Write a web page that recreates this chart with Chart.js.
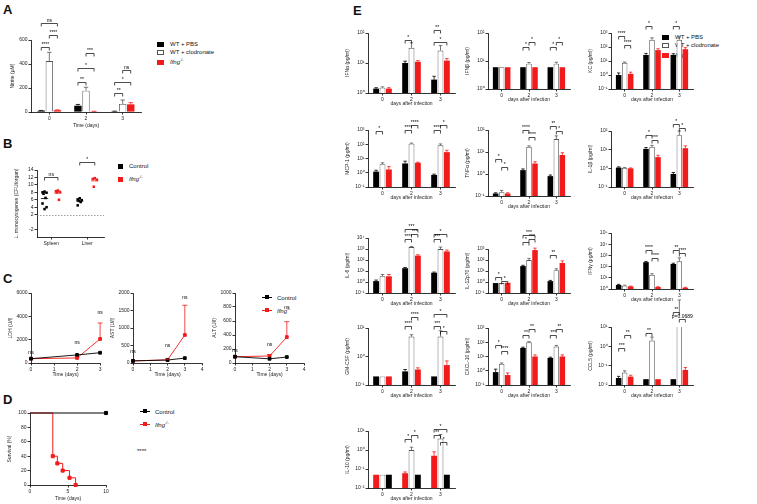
<!DOCTYPE html>
<html><head><meta charset="utf-8">
<script src="https://cdn.jsdelivr.net/npm/chart.js@4.4.1/dist/chart.umd.min.js"></script>
<style>
body{margin:0;width:757px;height:504px;background:#fff;position:relative;overflow:hidden;font-family:"Liberation Sans",Arial,sans-serif;color:#111}
canvas{position:absolute}
.pl{position:absolute;font-weight:bold;font-size:13px}
.leg{position:absolute;font-size:6px;line-height:8px;white-space:nowrap}
.sw{display:inline-block;width:7px;height:5px;margin-right:6px;vertical-align:-1px;box-sizing:border-box}
.ln{display:inline-block;width:10px;height:1px;margin-right:5px;vertical-align:2px;position:relative}
.ln i{position:absolute;left:3px;top:-2px;width:4px;height:4px}
.note{position:absolute;font-size:6px}
</style></head><body>
<div class="pl" style="left:3px;top:2px">A</div>
<div class="pl" style="left:3px;top:136px">B</div>
<div class="pl" style="left:3px;top:271px">C</div>
<div class="pl" style="left:3px;top:392px">D</div>
<div class="pl" style="left:353px;top:3px">E</div>

<div class="leg" style="left:157px;top:40px">
<div><span class="sw" style="background:#000"></span>WT + PBS</div>
<div><span class="sw" style="border:1px solid #555"></span>WT + clodronate</div>
<div><span class="sw" style="background:#f21b1b"></span><i>Ifng</i><sup style="font-size:4px">-/-</sup></div>
</div>
<div class="leg" style="left:118px;top:162px">
<div><span class="sw" style="background:#000;width:5px"></span>Control</div>
<div style="margin-top:3px"><span class="sw" style="background:#f21b1b;width:5px"></span><i>Ifng</i><sup style="font-size:4px">-/-</sup></div>
</div>
<div class="leg" style="left:262px;top:294px">
<div><span class="ln" style="background:#000"><i style="background:#000"></i></span>Control</div>
<div style="margin-top:3px"><span class="ln" style="background:#f21b1b"><i style="background:#f21b1b"></i></span><i>Ifng</i><sup style="font-size:4px">-/-</sup></div>
</div>
<div class="leg" style="left:140px;top:408px">
<div><span class="ln" style="background:#000"><i style="background:#000"></i></span>Control</div>
<div style="margin-top:3px"><span class="ln" style="background:#f21b1b"><i style="background:#f21b1b"></i></span><i>Ifng</i><sup style="font-size:4px">-/-</sup></div>
</div>
<div class="note" style="left:137px;top:448px">****</div>
<div class="leg" style="left:662px;top:33px">
<div><span class="sw" style="background:#000"></span>WT + PBS</div>
<div><span class="sw" style="border:1px solid #555"></span>WT + clodronate</div>
<div><span class="sw" style="background:#f21b1b"></span><i>Ifng</i><sup style="font-size:4px">-/-</sup></div>
</div>

<script>
// ---- A: nitrite ----
const daysA = ['0', '2', '3'];
const nitPBS = [11, 52, 5];
const nitClo = [425, 178, 67];
const nitIfng = [15, 5, 64];
const nitPBSse = [2, 11, 2];
const nitCloSe = [72, 28, 33];
const nitIfngSe = [3, 1, 14];

// ---- B: bacterial burden (log CFU) ----
const organs = ['Spleen', 'Liver'];
const cfuCtl = [[8.2, 8, 7.9, 7.6, 6.5, 5, 4, 3.5], [6.4, 6.1, 5.9, 5.7, 5.4, 4.5]];
const cfuIfng = [[8.5, 8.3, 8.1, 8, 6], [11.8, 11.6, 11.4, 9.5]];

// ---- C: serum enzymes ----
const cDays = [0, 2, 3];
const ldhCtl = [370, 690, 880];
const ldhIfng = [370, 430, 2060];
const ldhIfngSe = [0, 80, 1370];
const astCtl = [60, 85, 140];
const astIfng = [60, 90, 800];
const astIfngSe = [0, 20, 850];
const altCtl = [90, 60, 85];
const altIfng = [90, 100, 370];
const altIfngSe = [0, 20, 220];

// ---- D: survival ----
const survCtlT = [0, 10];
const survCtl = [100, 100];
const survIfngT = [0, 3, 3.6, 4.3, 5.2, 6];
const survIfng = [100, 40, 30, 20, 10, 0];

// ---- E: cytokines, rows = [WT+PBS, WT+clodronate, Ifng-/-], cols = days 0,2,3 ----
const daysE = ['0', '2', '3'];
const IFNa = [[1.4, 10, 2.8], [1.5, 32, 26], [1.4, 11, 12]];
const IFNaSe = [[0.1, 1.5, 0.8], [0.1, 15, 12], [0.1, 1, 2]];
const IFNb = [[6, 6, 6], [6, 8, 8], [6, 6, 6]];
const IFNbSe = [[0, 0, 0], [0, 0.8, 1], [0, 0, 0]];
const KC = [[1, 27, 27], [7.4, 330, 330], [1.2, 60, 70]];
const KCse = [[0.4, 8, 6], [1, 120, 200], [0.4, 15, 20]];
const MCP1 = [[1.2, 4.5, 0.7], [4, 110, 85], [1.7, 5, 28]];
const MCP1se = [[0.3, 2, 0.1], [1, 10, 20], [1, 0.5, 10]];
const TNFa = [[0.13, 1.5, 0.8], [0.15, 17, 39], [0.13, 3, 7.3]];
const TNFaSe = [[0.01, 0.2, 0.1], [0.03, 2, 15], [0.01, 0.6, 2]];
const IL1b = [[1.1, 11, 0.5], [1.05, 14, 60], [1.0, 4, 12]];
const IL1bSe = [[0.1, 2, 0.1], [0.05, 3, 40], [0.05, 1, 4]];
const IL6 = [[1.2, 18, 7], [3.3, 1500, 1000], [3.3, 250, 600]];
const IL6se = [[0.3, 3, 1], [1.5, 200, 500], [1.5, 50, 200]];
const IL12 = [[0.8, 28, 1.2], [0.8, 100, 12], [0.85, 800, 53]];
const IL12se = [[0, 5, 0.2], [0, 40, 4], [0, 400, 30]];
const IFNg = [[2.3, 250, 170], [2, 18, 300], [1.7, 1.5, 1.3]];
const IFNgSe = [[0.3, 40, 30], [0.2, 5, 300], [0.1, 0.1, 0.1]];
const GMCSF = [[0.2, 0.3, 0.2], [0.2, 5, 5], [0.2, 0.35, 0.5]];
const GMCSFse = [[0, 0.05, 0], [0, 0.8, 3], [0, 0.05, 0.2]];
const CXCL10 = [[0.8, 40, 8], [3, 100, 50], [0.5, 10, 10]];
const CXCL10se = [[0.5, 5, 1], [0.5, 10, 10], [0.2, 3, 3]];
const CCL5 = [[0.023, 0.02, 0.02], [0.044, 2, 50], [0.027, 0.02, 0.06]];
const CCL5se = [[0.005, 0, 0], [0.01, 1, 200], [0.005, 0, 0.02]];
const IL10 = [[0.05, 0.05, 0.05], [0.05, 1, 4], [0.05, 0.06, 0.5]];
const IL10se = [[0, 0, 0], [0, 0.4, 2.5], [0, 0.01, 0.3]];

const RED = '#f21b1b';
const FONT = '"Liberation Sans", Arial, sans-serif';

Chart.defaults.font.family = FONT;
Chart.defaults.font.size = 5;
Chart.defaults.color = '#222';
Chart.defaults.animation = false;
Chart.defaults.responsive = false;
Chart.defaults.plugins.legend.display = false;
Chart.defaults.plugins.tooltip.enabled = false;

// error bars (mean + SEM, upward only)
const errBars = {
    id: 'errBars',
    afterDatasetsDraw(chart) {
        const ctx = chart.ctx, ys = chart.scales.y;
        chart.data.datasets.forEach((ds, i) => {
            if (!ds.err) return;
            chart.getDatasetMeta(i).data.forEach((el, j) => {
                const e = ds.err[j];
                if (!e) return;
                const v = ds.data[j].y !== undefined ? ds.data[j].y : ds.data[j];
                const y0 = ys.getPixelForValue(v), y1 = ys.getPixelForValue(v + e);
                const hw = el.width ? el.width * 0.3 : 2.5;
                ctx.save();
                ctx.strokeStyle = ds.errColor || ds.borderColor;
                ctx.lineWidth = 0.8;
                ctx.beginPath();
                ctx.moveTo(el.x, y0); ctx.lineTo(el.x, y1);
                ctx.moveTo(el.x - hw, y1); ctx.lineTo(el.x + hw, y1);
                ctx.stroke();
                ctx.restore();
            });
        });
    }
};

// significance brackets: [group, datasetA, datasetB, yValue, text]
const brackets = {
    id: 'brackets',
    afterDraw(chart, args, opts) {
        const items = opts.items || [];
        const ctx = chart.ctx, ys = chart.scales.y;
        ctx.save();
        ctx.strokeStyle = '#000'; ctx.fillStyle = '#000'; ctx.lineWidth = 0.7;
        ctx.font = '5px ' + FONT; ctx.textAlign = 'center'; ctx.textBaseline = 'bottom';
        items.forEach(([g, a, b, v, txt]) => {
            const xa = chart.getDatasetMeta(a).data[g].x;
            const xb = chart.getDatasetMeta(b).data[g].x;
            const y = Math.round(ys.getPixelForValue(v)) + 0.5;
            ctx.beginPath();
            ctx.moveTo(xa, y + 3); ctx.lineTo(xa, y); ctx.lineTo(xb, y); ctx.lineTo(xb, y + 3);
            ctx.stroke();
            ctx.fillText(txt, (xa + xb) / 2, y - 0.5);
        });
        ctx.restore();
    }
};

// free text notes at data coordinates: [x, y, text]
const notes = {
    id: 'notes',
    afterDraw(chart, args, opts) {
        const items = opts.items || [];
        const ctx = chart.ctx;
        ctx.save();
        ctx.fillStyle = '#000'; ctx.font = '5px ' + FONT;
        ctx.textAlign = 'center'; ctx.textBaseline = 'bottom';
        items.forEach(([x, y, t]) => {
            ctx.fillText(t, chart.scales.x.getPixelForValue(x), chart.scales.y.getPixelForValue(y));
        });
        ctx.restore();
    }
};

// dotted reference line for panel B
const refLine = {
    id: 'refLine',
    beforeDatasetsDraw(chart, args, opts) {
        if (opts.y === undefined) return;
        const ctx = chart.ctx, a = chart.chartArea;
        const y = Math.round(chart.scales.y.getPixelForValue(opts.y)) + 0.5;
        ctx.save();
        ctx.strokeStyle = '#777'; ctx.lineWidth = 0.7; ctx.setLineDash([1.5, 1.5]);
        ctx.beginPath(); ctx.moveTo(a.left, y); ctx.lineTo(a.right, y); ctx.stroke();
        ctx.restore();
    }
};

Chart.register(errBars, brackets, notes, refLine);

function sup(n) {
    const m = {'-': '⁻', '0': '⁰', '1': '¹', '2': '²', '3': '³', '4': '⁴', '5': '⁵'};
    return String(n).split('').map(c => m[c]).join('');
}

function makeCanvas(plot, m) {
    const c = document.createElement('canvas');
    c.width = plot[2] - plot[0] + m.l + m.r;
    c.height = plot[3] - plot[1] + m.t + m.b;
    c.style.left = (plot[0] - m.l) + 'px';
    c.style.top = (plot[1] - m.t) + 'px';
    document.body.appendChild(c);
    return c;
}

function axisStyle(size, isY) {
    return {
        grid: {display: true, drawOnChartArea: false, drawTicks: true, tickLength: 2.5, color: '#000', lineWidth: 0.8, offset: false},
        border: {display: true, color: '#000', width: 0.8},
        ticks: {padding: 1, font: {size: 5}, color: '#222', maxRotation: 0, autoSkip: false},
        afterFit(s) {
            if (isY) s.width = size; else s.height = size;
            s.paddingTop = 0; s.paddingBottom = 0; s.paddingLeft = 0; s.paddingRight = 0;
        }
    };
}

function yTitle(text) {
    return {display: true, text: text, font: {size: 5}, padding: {top: 1, bottom: 1}, color: '#222'};
}

function linY(m, min, max, step, title) {
    return Object.assign(axisStyle(m.l, true), {
        min: min, max: max,
        ticks: {padding: 1, font: {size: 5}, color: '#222', stepSize: step, callback: v => String(v)},
        title: yTitle(title)
    });
}

function barSet(label, data, err, kind) {
    const st = {
        pbs: {backgroundColor: '#000', borderColor: '#000', borderWidth: 0},
        clo: {backgroundColor: '#fff', borderColor: '#555', borderWidth: 0.9},
        ifng: {backgroundColor: RED, borderColor: RED, borderWidth: 0}
    }[kind];
    return Object.assign({label: label, data: data, err: err, categoryPercentage: 0.66, barPercentage: 0.92}, st);
}

// ---- Panel A ----
(function () {
    const plot = [31, 40, 141, 112], m = {l: 22, t: 30, r: 3, b: 18};
    new Chart(makeCanvas(plot, m), {
        type: 'bar',
        data: {
            labels: daysA,
            datasets: [
                barSet('WT + PBS', nitPBS, nitPBSse, 'pbs'),
                barSet('WT + clodronate', nitClo, nitCloSe, 'clo'),
                barSet('Ifng-/-', nitIfng, nitIfngSe, 'ifng')
            ]
        },
        options: {
            layout: {padding: {top: m.t, right: m.r}},
            scales: {
                x: Object.assign(axisStyle(m.b, false), {title: {display: true, text: 'Time (days)', font: {size: 5}, padding: 1}}),
                y: linY(m, 0, 600, 200, 'Nitrite (µM)')
            },
            plugins: {
                brackets: {items: [
                    [0, 0, 2, 739, 'ns'], [0, 1, 2, 642, '****'], [0, 0, 1, 544, '****'],
                    [1, 1, 2, 489, '***'], [1, 0, 2, 364, '*'], [1, 0, 1, 253, '**'],
                    [2, 1, 2, 350, 'ns'], [2, 0, 2, 253, '*'], [2, 0, 1, 156, '**']
                ]}
            }
        }
    });
})();

// ---- Panel B ----
(function () {
    const plot = [37, 170, 105, 237.5], m = {l: 24, t: 20, r: 3, b: 12};
    const groupX = [[0.45, 1.25], [2.55, 3.45]];   // [control, ifng] per organ
    const jit = [0, -0.12, 0.12, -0.06, 0.06, -0.12, 0.12, 0];
    const pts = (vals, gx) => vals.map((v, i) => ({x: gx + jit[i % jit.length], y: v}));
    const ds = [];
    organs.forEach((o, k) => {
        ds.push({type: 'scatter', data: pts(cfuCtl[k], groupX[k][0]), backgroundColor: '#000', borderWidth: 0, pointStyle: 'rect', pointRadius: 1.8});
        ds.push({type: 'scatter', data: pts(cfuIfng[k], groupX[k][1]), backgroundColor: RED, borderWidth: 0, pointStyle: 'rect', pointRadius: 1.8});
    });
    // mean lines
    const mean = a => a.reduce((s, v) => s + v, 0) / a.length;
    organs.forEach((o, k) => {
        [[cfuCtl[k], '#000', 0], [cfuIfng[k], RED, 1]].forEach(([vals, col, j]) => {
            const mu = mean(vals), gx = groupX[k][j];
            ds.push({type: 'line', data: [{x: gx - 0.22, y: mu}, {x: gx + 0.22, y: mu}], borderColor: col, borderWidth: 0.8, pointRadius: 0});
        });
    });
    new Chart(makeCanvas(plot, m), {
        type: 'scatter',
        data: {datasets: ds},
        options: {
            layout: {padding: {top: m.t, right: m.r}},
            scales: {
                x: Object.assign(axisStyle(m.b, false), {
                    type: 'linear', min: 0, max: 4,
                    afterBuildTicks: s => { s.ticks = [{value: 0.85}, {value: 3.0}]; },
                    ticks: {padding: 1, font: {size: 5}, color: '#222', callback: v => v < 2 ? organs[0] : organs[1]}
                }),
                y: Object.assign(linY(m, -4, 14, 2, 'L. monocytogenes (CFU/organ)'), {
                    afterBuildTicks: s => { s.ticks = [14, 12, 10, 8, 6, 4, 2, -2].map(v => ({value: v})); }
                })
            },
            plugins: {refLine: {y: 2}}
        },
        plugins: [{
            id: 'bBrackets',
            afterDraw(chart) {
                const ctx = chart.ctx, xs = chart.scales.x, ys = chart.scales.y;
                ctx.save();
                ctx.strokeStyle = '#000'; ctx.fillStyle = '#000'; ctx.lineWidth = 0.7;
                ctx.font = '5px ' + FONT; ctx.textAlign = 'center'; ctx.textBaseline = 'bottom';
                [[0, 12.2, 'ns'], [1, 16.2, '*']].forEach(([k, v, t]) => {
                    const xa = xs.getPixelForValue(groupX[k][0]), xb = xs.getPixelForValue(groupX[k][1]);
                    const y = Math.round(ys.getPixelForValue(v)) + 0.5;
                    ctx.beginPath(); ctx.moveTo(xa, y + 3); ctx.lineTo(xa, y); ctx.lineTo(xb, y); ctx.lineTo(xb, y + 3); ctx.stroke();
                    ctx.fillText(t, (xa + xb) / 2, y - 0.5);
                });
                ctx.restore();
            }
        }]
    });
})();

// ---- Panel C ----
function enzyme(plot, ctl, ifng, ifngSe, xmax, ymax, step, title, notesList) {
    const m = {l: 24, t: 8, r: 4, b: 16};
    new Chart(makeCanvas(plot, m), {
        type: 'line',
        data: {
            datasets: [
                {data: cDays.map((d, i) => ({x: d, y: ctl[i]})), borderColor: '#000', backgroundColor: '#000', borderWidth: 0.9, pointStyle: 'rect', pointRadius: 2},
                {data: cDays.map((d, i) => ({x: d, y: ifng[i]})), borderColor: RED, backgroundColor: RED, borderWidth: 0.9, pointStyle: 'rect', pointRadius: 2, err: ifngSe}
            ]
        },
        options: {
            layout: {padding: {top: m.t, right: m.r}},
            clip: false,
            scales: {
                x: Object.assign(axisStyle(m.b, false), {
                    type: 'linear', min: 0, max: xmax,
                    ticks: {padding: 1, font: {size: 5}, color: '#222', stepSize: 1},
                    title: {display: true, text: 'Time (days)', font: {size: 5}, padding: 1}
                }),
                y: linY(m, 0, ymax, step, title)
            },
            plugins: {notes: {items: notesList}}
        }
    });
}
enzyme([31, 293, 101, 363], ldhCtl, ldhIfng, ldhIfngSe, 3, 6000, 2000, 'LDH (U/l)', [[0, 700, 'ns'], [2, 1500, 'ns'], [3, 4100, 'ns']]);
enzyme([133, 293, 203, 363], astCtl, astIfng, astIfngSe, 4, 2000, 500, 'AST (U/l)', [[0, 250, 'ns'], [2, 420, 'ns'], [3, 1800, 'ns']]);
enzyme([235, 293, 305, 363], altCtl, altIfng, altIfngSe, 4, 1000, 200, 'ALT (U/l)', [[0, 140, 'ns'], [2, 220, 'ns'], [3, 760, 'ns']]);

// ---- Panel D ----
(function () {
    const plot = [30, 413, 107, 485], m = {l: 24, t: 6, r: 4, b: 18};
    new Chart(makeCanvas(plot, m), {
        type: 'line',
        data: {
            datasets: [
                {data: survCtlT.map((t, i) => ({x: t, y: survCtl[i]})), stepped: 'before', borderColor: '#000', backgroundColor: '#000', borderWidth: 1, pointStyle: 'rect', pointRadius: [0, 2.2]},
                {data: survIfngT.map((t, i) => ({x: t, y: survIfng[i]})), stepped: 'before', borderColor: RED, backgroundColor: RED, borderWidth: 1, pointStyle: 'rect', pointRadius: [0, 2.2, 2.2, 2.2, 2.2, 2.2]}
            ]
        },
        options: {
            layout: {padding: {top: m.t, right: m.r}},
            clip: false,
            scales: {
                x: Object.assign(axisStyle(m.b, false), {
                    type: 'linear', min: 0, max: 10,
                    ticks: {padding: 1, font: {size: 5}, color: '#222', stepSize: 5},
                    title: {display: true, text: 'Time (days)', font: {size: 5}, padding: 1}
                }),
                y: linY(m, 0, 100, 20, 'Survival (%)')
            }
        }
    });
})();

// ---- Panel E ----
function cyto(title, vals, se, plot, e0, e1, marks, order) {
    const m = {l: 24, t: 32, r: 3, b: 15};
    order = order || [0, 1, 2];
    const names = ['WT + PBS', 'WT + clodronate', 'Ifng-/-'];
    const kinds = ['pbs', 'clo', 'ifng'];
    new Chart(makeCanvas(plot, m), {
        type: 'bar',
        data: {
            labels: daysE,
            datasets: order.map(k => barSet(names[k], vals[k], se[k], kinds[k]))
        },
        options: {
            layout: {padding: {top: m.t, right: m.r}},
            scales: {
                x: Object.assign(axisStyle(m.b, false), {title: {display: true, text: 'days after infection', font: {size: 5}, padding: 1}}),
                y: Object.assign(axisStyle(m.l, true), {
                    type: 'logarithmic', min: Math.pow(10, e0), max: Math.pow(10, e1),
                    afterBuildTicks: s => {
                        s.ticks = [];
                        for (let e = e0; e <= e1; e++) s.ticks.push({value: Math.pow(10, e)});
                    },
                    ticks: {padding: 1, font: {size: 5}, color: '#222', callback: v => '10' + sup(Math.round(Math.log10(v)))},
                    title: yTitle(title)
                })
            },
            plugins: {brackets: {items: marks || []}}
        }
    });
}

cyto('IFNα (pg/ml)', IFNa, IFNaSe, [368, 33, 455, 93], 0, 2,
    [[1, 0, 1, 58, '*'], [2, 0, 1, 126, '**'], [2, 0, 2, 50, '*']]);
cyto('IFNβ (pg/ml)', IFNb, IFNbSe, [488, 33, 570, 89], 0, 2,
    [[1, 0, 1, 31, '*'], [1, 1, 2, 47, '*'], [2, 0, 1, 31, '*'], [2, 1, 2, 47, '*']]);
cyto('KC (pg/ml)', KC, KCse, [611, 33, 693, 89], -1, 3,
    [[0, 0, 1, 600, '****'], [0, 1, 2, 150, '****'], [1, 0, 1, 3000, '*'], [2, 0, 1, 3000, '*']]);
cyto('MCP-1 (pg/ml)', MCP1, MCP1se, [368, 130, 455, 187], -1, 3,
    [[0, 0, 1, 800, '*'], [1, 0, 1, 1000, '****'], [1, 1, 2, 2200, '****'], [2, 0, 1, 1000, '****'], [2, 1, 2, 2200, '*']]);
cyto('TNFα (pg/ml)', TNFa, TNFaSe, [488, 130, 570, 196], -1, 2,
    [[0, 0, 1, 4.8, '*'], [0, 1, 2, 2, '*'], [1, 0, 1, 100, '****'], [1, 1, 2, 48, '****'], [2, 0, 1, 150, '**'], [2, 1, 2, 90, '*']]);
cyto('IL-1β (pg/ml)', IL1b, IL1bSe, [611, 131, 693, 187], -1, 2,
    [[1, 0, 1, 60, '*'], [1, 1, 2, 35, '***'], [2, 0, 1, 250, '*'], [2, 1, 2, 150, '*']]);
cyto('IL-6 (pg/ml)', IL6, IL6se, [368, 238, 455, 293], -1, 4,
    [[1, 0, 1, 8000, '****'], [1, 1, 2, 25000, '***'], [1, 0, 2, 60000, '***'], [2, 0, 1, 8000, '***'], [2, 0, 2, 25000, '*']]);
cyto('IL-12p70 (pg/ml)', IL12, IL12se, [488, 249, 570, 293], -1, 3,
    [[0, 0, 1, 3, '*'], [0, 1, 2, 1.2, '*'], [1, 0, 1, 4000, '*'], [1, 1, 2, 8000, '***'], [1, 0, 2, 20000, '***'], [2, 0, 1, 300, '**']]);
cyto('IFNγ (pg/ml)', IFNg, IFNgSe, [611, 233, 693, 289], 0, 5,
    [[1, 0, 1, 3000, '****'], [1, 1, 2, 600, '****'], [2, 0, 1, 3000, '**'], [2, 1, 2, 1500, '****']]);
cyto('GM-CSF (pg/ml)', GMCSF, GMCSFse, [368, 328, 455, 385], -1, 1,
    [[1, 0, 1, 12, '****'], [1, 1, 2, 25, '****'], [2, 0, 1, 12, '***'], [2, 1, 2, 8, '*'], [2, 0, 2, 30, '*']]);
cyto('CXCL-10 (pg/ml)', CXCL10, CXCL10se, [488, 328, 570, 385], -1, 3,
    [[0, 0, 1, 60, '*'], [0, 1, 2, 25, '****'], [1, 0, 1, 300, '**'], [1, 1, 2, 900, '**'], [2, 0, 1, 300, '***'], [2, 1, 2, 900, '**']]);
cyto('CCL5 (pg/ml)', CCL5, CCL5se, [611, 327, 693, 385], -2, 1,
    [[0, 0, 1, 0.8, '***'], [0, 1, 2, 3.9, '**'], [1, 0, 1, 5, '**'], [2, 0, 1, 60, '**'], [2, 1, 2, 25, 'p=0.0689']]);
cyto('IL-10 (pg/ml)', IL10, IL10se, [368, 431, 455, 488], -2, 1,
    [[1, 0, 1, 4, '*'], [1, 1, 2, 6, '*'], [2, 0, 1, 6, '**'], [2, 1, 2, 2.5, '*'], [2, 0, 2, 12, '*']], [2, 1, 0]);
</script>
</body></html>
